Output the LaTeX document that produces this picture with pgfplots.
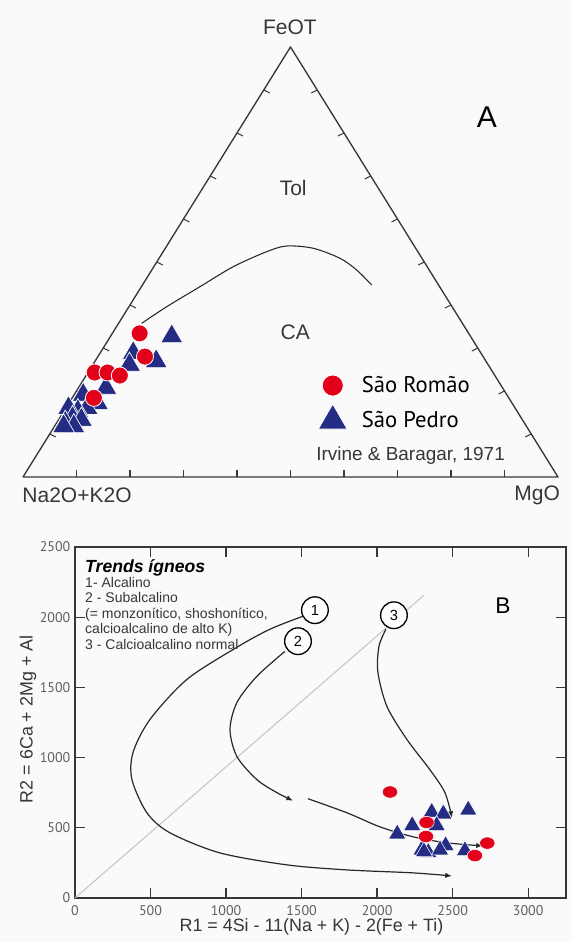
\documentclass[border=0pt]{standalone}
\usepackage{fontspec}
\setmainfont{Liberation Sans}
\newfontfamily\ptsans{PT Sans}
\usepackage{pgfplots}
\usepackage{pgfplotstable}
\pgfplotsset{compat=1.18}
\usetikzlibrary{arrows.meta}
\definecolor{sred}{RGB}{226,0,26}
\definecolor{sblue}{RGB}{36,44,132}
\definecolor{frame}{RGB}{55,55,55}
\definecolor{tickgray}{RGB}{95,95,95}
\definecolor{curvec}{RGB}{40,40,40}

% ---- Diagram A (AFM), coordinates in the triangle frame: X along base (0..1), Y = FeOT height (0..1)
\pgfplotstableread{
X Y
0.218 0.334
0.228 0.280
0.134 0.243
0.158 0.243
0.181 0.236
0.1325 0.184
}\romaoA
\pgfplotstableread{
X Y
0.278 0.327
0.249 0.269
0.206 0.288
0.199 0.261
0.155 0.207
0.1125 0.191
0.139 0.172
0.120 0.160
0.1025 0.153
0.085 0.160
0.0925 0.137
0.109 0.133
0.079 0.126
0.095 0.118
0.076 0.118
}\pedroA
\pgfplotstableread{
X Y
0.2219 0.3574
0.2686 0.3960
0.3308 0.4426
0.3931 0.4891
0.4555 0.5240
0.4929 0.5372
0.5426 0.5319
0.5925 0.5086
0.6237 0.4814
0.6518 0.4465
}\irvine
% ---- Diagram B (R1-R2)
\pgfplotstableread{
R1 R2
2085 755
2327 538
2323 438
2729 391
2647 302
}\romaoB
\pgfplotstableread{
R1 R2
2603 627
2361 611
2438 599
2232 516
2394 516
2133 456
2294 342
2338 325
2310 330
2453 373
2416 342
2581 337
}\pedroB

\newcommand{\tk}[4]{\draw[frame,line width=0.8pt] (axis cs:#1,#2) -- (axis cs:#3,#4);}

\begin{document}
\begin{tikzpicture}
\useasboundingbox[fill={rgb,255:red,250;green,250;blue,250}] (0pt,0pt) rectangle (429pt,706.5pt);

% ================= A =================
\begin{axis}[at={(17.25pt,348.75pt)}, anchor=south west, scale only axis,
  width=401.25pt, height=322.5pt,
  xmin=0, xmax=1, ymin=0, ymax=1, axis lines=none, clip=false,
  legend style={at={(axis cs:0.544,0.244)}, anchor=north west, draw=none, fill=none,
    font=\ptsans\fontsize{17}{20}\selectfont, row sep=6pt,
    nodes={inner sep=1pt},
    /tikz/every odd column/.append style={column sep=10pt}},
  legend cell align=left]
\addlegendimage{only marks, mark=*, mark size=7.9pt, color=sred, mark options={draw=white, line width=0.6pt}}
\addlegendentry{São Romão}
\addlegendimage{only marks, mark=triangle*, mark size=12.5pt, color=sblue, mark options={draw=white, line width=0.6pt}}
\addlegendentry{São Pedro}

\addplot[frame, line width=1pt, line join=round, forget plot] coordinates {(0,0) (1,0) (0.5,1) (0,0)};
\tk{0.1}{0}{0.1}{0.016}\tk{0.2}{0}{0.2}{0.016}\tk{0.3}{0}{0.3}{0.016}
\tk{0.4}{0}{0.4}{0.016}\tk{0.5}{0}{0.5}{0.016}\tk{0.6}{0}{0.6}{0.016}
\tk{0.7}{0}{0.7}{0.016}\tk{0.8}{0}{0.8}{0.016}\tk{0.9}{0}{0.9}{0.016}
\tk{0.05}{0.1}{0.0612}{0.093}\tk{0.1}{0.2}{0.1112}{0.193}\tk{0.15}{0.3}{0.1612}{0.293}
\tk{0.2}{0.4}{0.2112}{0.393}\tk{0.25}{0.5}{0.2612}{0.493}\tk{0.3}{0.6}{0.3112}{0.593}
\tk{0.35}{0.7}{0.3612}{0.693}\tk{0.4}{0.8}{0.4112}{0.793}\tk{0.45}{0.9}{0.4612}{0.893}
\tk{0.95}{0.1}{0.9388}{0.093}\tk{0.9}{0.2}{0.8888}{0.193}\tk{0.85}{0.3}{0.8388}{0.293}
\tk{0.8}{0.4}{0.7888}{0.393}\tk{0.75}{0.5}{0.7388}{0.493}\tk{0.7}{0.6}{0.6888}{0.593}
\tk{0.65}{0.7}{0.6388}{0.693}\tk{0.6}{0.8}{0.5888}{0.793}\tk{0.55}{0.9}{0.5388}{0.893}

\addplot[curvec, line width=0.8pt, smooth, forget plot] table[x=X,y=Y] {\irvine};
\addplot[only marks, mark=triangle*, mark size=9.5pt, color=sblue, mark options={draw=white, line width=0.5pt}, forget plot] table[x=X,y=Y] {\pedroA};
\addplot[only marks, mark=*, mark size=6.4pt, color=sred, mark options={draw=white, line width=0.6pt}, forget plot] table[x=X,y=Y] {\romaoA};

\node[font=\fontsize{15.75}{18}\selectfont, text=frame] at (axis cs:0.499,1.0465) {FeOT};
\node[font=\fontsize{15.75}{18}\selectfont, text=frame] at (axis cs:0.505,0.672) {Tol};
\node[font=\fontsize{15.75}{18}\selectfont, text=frame] at (axis cs:0.509,0.337) {CA};
\node[font=\fontsize{22.5}{26}\selectfont] at (axis cs:0.867,0.837) {A};
\node[font=\fontsize{15.75}{18}\selectfont, text=frame] at (axis cs:0.101,-0.042) {Na2O+K2O};
\node[font=\fontsize{15.75}{18}\selectfont, text=frame] at (axis cs:0.961,-0.042) {MgO};
\node[font=\fontsize{14.2}{17}\selectfont, text=frame] at (axis cs:0.7245,0.0488) {Irvine \& Baragar, 1971};
\end{axis}

% ================= B =================
\begin{axis}[at={(56.25pt,33pt)}, anchor=south west, scale only axis,
  width=368.25pt, height=263.25pt,
  xmin=0, xmax=3250, ymin=0, ymax=2500,
  xtick={0,500,...,3000}, ytick={0,500,...,2500},
  tick align=inside, major tick length=7.5pt,
  axis line style={frame, line width=1.3pt},
  tick style={frame, line width=1pt},
  ticklabel style={font=\ptsans\fontsize{10.5}{12}\selectfont, text=tickgray},
  xticklabel style={yshift=-2pt},
  /pgf/number format/assume math mode=true,
  /pgf/number format/1000 sep={},
  xlabel={R1 = 4Si - 11(Na + K) - 2(Fe + Ti)},
  ylabel={R2 = 6Ca + 2Mg + Al},
  label style={font=\fontsize{13.4}{15}\selectfont, text=frame},
  xlabel style={at={(axis description cs:0.4817,-0.083)}, anchor=center},
  ylabel style={at={(axis description cs:-0.0957,0.509)}, anchor=center},
  clip=false]
\addplot[gray!45, line width=0.8pt] coordinates {(0,0) (2310,2157)};
% trend 1
\addplot[curvec, line width=0.9pt, smooth, -{Latex[length=5pt,width=4pt]}] coordinates {
(1509,2007) (1290,1914) (1072,1786) (741,1557) (496,1271) (384,1036) (377,843) (476,607) (629,464) (960,321) (1403,236) (1800,200) (2237,179) (2495,157)};
% trend 2
\addplot[curvec, line width=0.9pt, smooth, -{Latex[length=5pt,width=4pt]}] coordinates {
(1390,1757) (1204,1579) (1072,1393) (1026,1200) (1072,1007) (1204,843) (1337,750) (1443,693)};
\addplot[curvec, line width=0.9pt, smooth, -{Latex[length=5pt,width=4pt]}] coordinates {
(1542,707) (1800,607) (2018,507) (2237,436) (2462,393) (2700,371)};
% trend 3
\addplot[curvec, line width=0.9pt, smooth, -{Latex[length=5pt,width=4pt]}] coordinates {
(2058,1914) (2012,1793) (2005,1607) (2065,1364) (2197,1129) (2349,914) (2449,750) (2495,571)};

\addplot[only marks, mark=triangle*, mark size=7.5pt, color=sblue, mark options={draw=white, line width=0.4pt}] table[x=R1,y=R2] {\pedroB};
\addplot[only marks, mark=*, mark size=4.6pt, color=sred, mark options={xscale=1.25, draw=white, line width=0.4pt}] table[x=R1,y=R2] {\romaoB};

\node[circle, draw=black, line width=1pt, minimum size=20pt, inner sep=0pt, fill=white, font=\fontsize{11}{13}\selectfont] at (axis cs:1588,2050) {1};
\node[circle, draw=black, line width=1pt, minimum size=20pt, inner sep=0pt, fill=white, font=\fontsize{11}{13}\selectfont] at (axis cs:1476,1829) {2};
\node[circle, draw=black, line width=1pt, minimum size=20pt, inner sep=0pt, fill=white, font=\fontsize{11}{13}\selectfont] at (axis cs:2111,2014) {3};
\node[font=\fontsize{17}{20}\selectfont] at (axis cs:2833,2079) {B};

\node[anchor=base west, inner sep=0pt, font=\bfseries\itshape\fontsize{13.2}{15}\selectfont] at (axis cs:66,2321) {Trends ígneos};
\node[anchor=base west, inner sep=0pt, font=\fontsize{10.5}{12}\selectfont, text=frame] at (axis cs:66,2214) {1- Alcalino};
\node[anchor=base west, inner sep=0pt, font=\fontsize{10.5}{12}\selectfont, text=frame] at (axis cs:66,2104) {2 - Subalcalino};
\node[anchor=base west, inner sep=0pt, font=\fontsize{10.5}{12}\selectfont, text=frame] at (axis cs:66,1993) {(= monzonítico, shoshonítico,};
\node[anchor=base west, inner sep=0pt, font=\fontsize{10.5}{12}\selectfont, text=frame] at (axis cs:66,1882) {calcioalcalino de alto K)};
\node[anchor=base west, inner sep=0pt, font=\fontsize{10.5}{12}\selectfont, text=frame] at (axis cs:66,1771) {3 - Calcioalcalino normal};
\end{axis}
\end{tikzpicture}
\end{document}
